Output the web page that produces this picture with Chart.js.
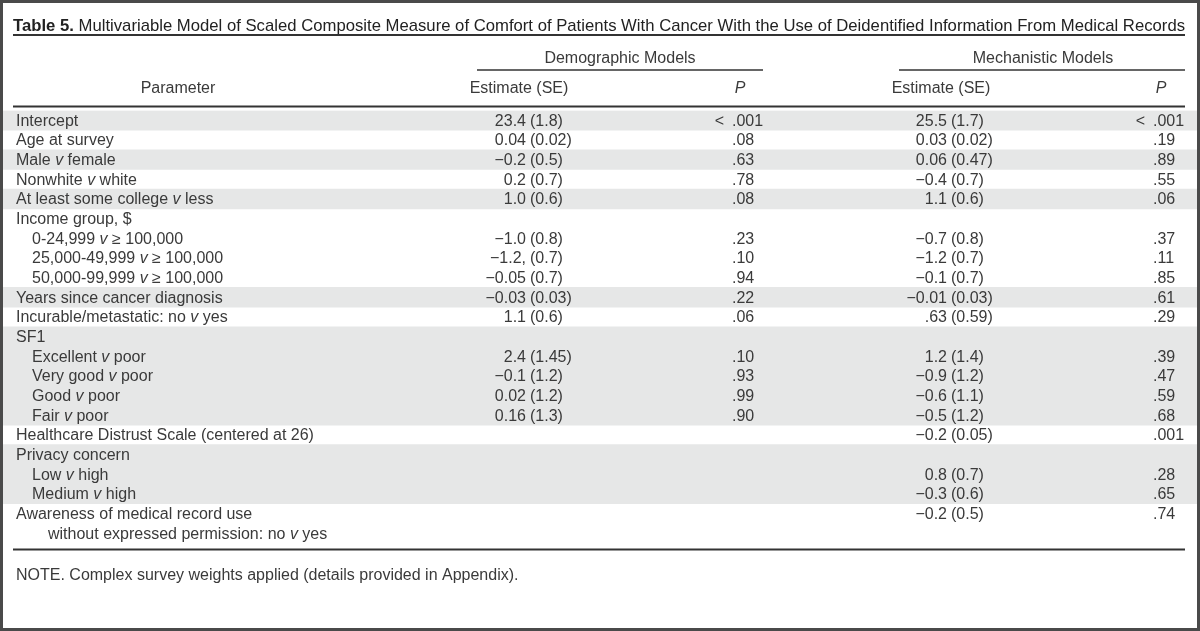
<!DOCTYPE html>
<html>
<head>
<meta charset="utf-8">
<title>Table 5</title>
<script src="https://cdn.jsdelivr.net/npm/chart.js@4.4.1/dist/chart.umd.min.js"></script>
<style>
  html, body { margin: 0; padding: 0; background: #fff; }
  canvas { display: block; }
</style>
</head>
<body>
<canvas id="tableChart" width="1200" height="631"></canvas>
<script>
// words between asterisks are set in italics
const titleBold = "Table 5.";
const titleText = "Multivariable Model of Scaled Composite Measure of Comfort of Patients With Cancer With the Use of Deidentified Information From Medical Records";
const groupHeaders = ["Demographic Models", "Mechanistic Models"];
const columnHeaders = ["Parameter", "Estimate (SE)", "*P*", "Estimate (SE)", "*P*"];
const noteText = "NOTE. Complex survey weights applied (details provided in Appendix).";

const paramLabels = [
    "Intercept",
    "Age at survey",
    "Male *v* female",
    "Nonwhite *v* white",
    "At least some college *v* less",
    "Income group, $",
    "0-24,999 *v* ≥ 100,000",
    "25,000-49,999 *v* ≥ 100,000",
    "50,000-99,999 *v* ≥ 100,000",
    "Years since cancer diagnosis",
    "Incurable/metastatic: no *v* yes",
    "SF1",
    "Excellent *v* poor",
    "Very good *v* poor",
    "Good *v* poor",
    "Fair *v* poor",
    "Healthcare Distrust Scale (centered at 26)",
    "Privacy concern",
    "Low *v* high",
    "Medium *v* high",
    "Awareness of medical record use",
    "without expressed permission: no *v* yes",
];
const indentLevels = [0, 0, 0, 0, 0, 0, 1, 1, 1, 0, 0, 0, 1, 1, 1, 1, 0, 0, 1, 1, 0, 2];
const shadedRows = [1, 0, 1, 0, 1, 0, 0, 0, 0, 1, 0, 1, 1, 1, 1, 1, 0, 1, 1, 1, 0, 0];

const demoEstimate = ["23.4", "0.04", "−0.2", "0.2", "1.0", "", "−1.0", "−1.2,", "−0.05", "−0.03", "1.1", "", "2.4", "−0.1", "0.02", "0.16", "", "", "", "", "", ""];
const demoSE = ["(1.8)", "(0.02)", "(0.5)", "(0.7)", "(0.6)", "", "(0.8)", "(0.7)", "(0.7)", "(0.03)", "(0.6)", "", "(1.45)", "(1.2)", "(1.2)", "(1.3)", "", "", "", "", "", ""];
const demoP = ["< .001", ".08", ".63", ".78", ".08", "", ".23", ".10", ".94", ".22", ".06", "", ".10", ".93", ".99", ".90", "", "", "", "", "", ""];

const mechEstimate = ["25.5", "0.03", "0.06", "−0.4", "1.1", "", "−0.7", "−1.2", "−0.1", "−0.01", ".63", "", "1.2", "−0.9", "−0.6", "−0.5", "−0.2", "", "0.8", "−0.3", "−0.2", ""];
const mechSE = ["(1.7)", "(0.02)", "(0.47)", "(0.7)", "(0.6)", "", "(0.8)", "(0.7)", "(0.7)", "(0.03)", "(0.59)", "", "(1.4)", "(1.2)", "(1.1)", "(1.2)", "(0.05)", "", "(0.7)", "(0.6)", "(0.5)", ""];
const mechP = ["< .001", ".19", ".89", ".55", ".06", "", ".37", ".11", ".85", ".61", ".29", "", ".39", ".47", ".59", ".68", ".001", "", ".28", ".65", ".74", ""];

const FAMILY = '"Liberation Sans", Arial, sans-serif';
const TEXT = "#3a3a3a";
const RULE = "#333";

function fontFor(italic, bold, size) {
    return (italic ? "italic " : "") + (bold ? "bold " : "") + size + "px " + FAMILY;
}

// draw text with *italic* parts, aligned left / center / right
function drawRich(ctx, text, x, y, size, align) {
    const parts = text.split("*");
    let total = 0;
    parts.forEach((p, i) => {
        ctx.font = fontFor(i % 2 === 1, false, size);
        total += ctx.measureText(p).width;
    });
    let cx = x;
    if (align === "center") cx = x - total / 2;
    if (align === "right") cx = x - total;
    ctx.textAlign = "left";
    parts.forEach((p, i) => {
        ctx.font = fontFor(i % 2 === 1, false, size);
        ctx.fillText(p, cx, y);
        cx += ctx.measureText(p).width;
    });
}

function hLine(ctx, x1, x2, y, w) {
    ctx.beginPath();
    ctx.lineWidth = w;
    ctx.strokeStyle = RULE;
    ctx.moveTo(x1, y);
    ctx.lineTo(x2, y);
    ctx.stroke();
}

const tablePlugin = {
    id: "tableText",
    beforeDraw(chart) {
        const ctx = chart.ctx;
        ctx.save();
        ctx.fillStyle = "#fff";
        ctx.fillRect(0, 0, chart.width, chart.height);
        ctx.restore();
    },
    afterDatasetsDraw(chart) {
        const ctx = chart.ctx;
        const yScale = chart.scales.y;
        const size = 16;
        ctx.save();
        ctx.textBaseline = "middle";
        ctx.fillStyle = TEXT;

        // title, squeezed to the width of the rules
        const left = 13, right = 1185;
        ctx.font = fontFor(false, true, 17);
        const wBold = ctx.measureText(titleBold + " ").width;
        ctx.font = fontFor(false, false, 17);
        const wRest = ctx.measureText(titleText).width;
        const sx = (right - left) / (wBold + wRest);
        ctx.save();
        ctx.translate(left, 26);
        ctx.scale(sx, 1);
        ctx.fillStyle = "#222";
        ctx.textAlign = "left";
        ctx.font = fontFor(false, true, 17);
        ctx.fillText(titleBold, 0, 0);
        ctx.font = fontFor(false, false, 17);
        ctx.fillText(titleText, wBold, 0);
        ctx.restore();
        hLine(ctx, left, right, 35, 2);

        // header
        drawRich(ctx, groupHeaders[0], 620, 59, size, "center");
        drawRich(ctx, groupHeaders[1], 1043, 59, size, "center");
        hLine(ctx, 477, 763, 70, 1.5);
        hLine(ctx, 899, right, 70, 1.5);
        drawRich(ctx, columnHeaders[0], 178, 89, size, "center");
        drawRich(ctx, columnHeaders[1], 519, 89, size, "center");
        drawRich(ctx, columnHeaders[2], 740, 89, size, "center");
        drawRich(ctx, columnHeaders[3], 941, 89, size, "center");
        drawRich(ctx, columnHeaders[4], 1161, 89, size, "center");
        hLine(ctx, left, right, 106.5, 2);

        // body rows
        const indentPx = [16, 32, 48];
        const estCols = [
            { est: demoEstimate, se: demoSE, p: demoP, paren: 530, dot: 732 },
            { est: mechEstimate, se: mechSE, p: mechP, paren: 951, dot: 1153 },
        ];
        paramLabels.forEach((label, i) => {
            const y = yScale.getPixelForValue(i) + 1;
            drawRich(ctx, label, indentPx[indentLevels[i]], y, size, "left");
            estCols.forEach((c) => {
                if (c.est[i]) {
                    ctx.font = fontFor(false, false, size);
                    ctx.textAlign = "right";
                    ctx.fillText(c.est[i], c.paren - 4, y);
                    ctx.textAlign = "left";
                    ctx.fillText(c.se[i], c.paren, y);
                }
                if (c.p[i]) {
                    ctx.font = fontFor(false, false, size);
                    const parts = c.p[i].split(" ");
                    const val = parts[parts.length - 1];
                    ctx.textAlign = "left";
                    ctx.fillText(val, c.dot, y);
                    if (parts.length > 1) {
                        ctx.textAlign = "right";
                        ctx.fillText(parts[0], c.dot - 8, y);
                    }
                }
            });
        });

        // bottom rule and note
        hLine(ctx, left, right, 549.5, 2);
        drawRich(ctx, noteText, 16, 576, size, "left");

        // frame
        ctx.strokeStyle = "#4a4a4a";
        ctx.lineWidth = 3;
        ctx.strokeRect(1.5, 1.5, chart.width - 3, chart.height - 3);
        ctx.restore();
    },
};

new Chart(document.getElementById("tableChart"), {
    type: "bar",
    data: {
        labels: paramLabels,
        datasets: [
            {
                data: shadedRows.map((s) => (s ? [0, 1] : null)),
                backgroundColor: "#e6e7e7",
                borderWidth: 0,
                barPercentage: 1,
                categoryPercentage: 1,
            },
        ],
    },
    options: {
        indexAxis: "y",
        responsive: false,
        animation: false,
        events: [],
        layout: { padding: { top: 110.5, bottom: 88, left: 3, right: 3 } },
        scales: {
            x: { display: false, min: 0, max: 1 },
            y: { display: false },
        },
        plugins: {
            legend: { display: false },
            tooltip: { enabled: false },
        },
    },
    plugins: [tablePlugin],
});
</script>
</body>
</html>
